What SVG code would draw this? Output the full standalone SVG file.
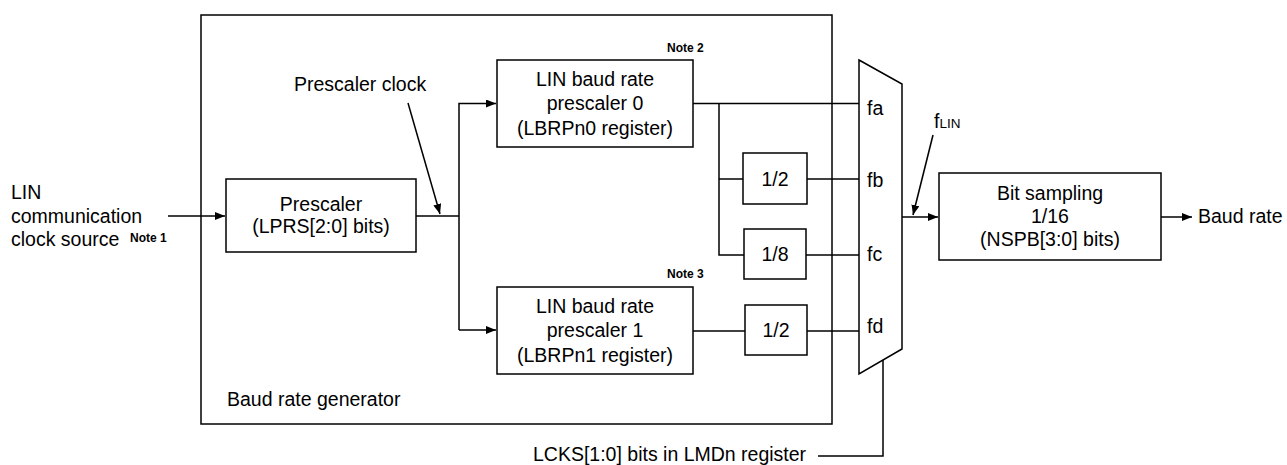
<svg xmlns="http://www.w3.org/2000/svg" width="1287" height="465" viewBox="0 0 1287 465">
<style>
.b{fill:#fff;stroke:#000;stroke-width:1.5}
.l{fill:none;stroke:#000;stroke-width:1.5}
.t{font-family:"Liberation Sans",Arial,sans-serif;font-size:19.5px;fill:#000}
.c{text-anchor:middle}
.n{font-family:"Liberation Sans",Arial,sans-serif;font-size:12px;font-weight:bold;fill:#000}
</style>
<defs>
<marker id="ah" viewBox="0 0 10 8" refX="10" refY="4" markerWidth="10" markerHeight="8" markerUnits="userSpaceOnUse" orient="auto">
<path d="M0,0 L10,4 L0,8 Z" fill="#000"/>
</marker>
</defs>
<rect width="1287" height="465" fill="#fff"/>
<g id="generator">
<rect class="l" x="201" y="15" width="631" height="409"/>
<text class="t" x="227" y="406">Baud rate generator</text>
</g>
<g id="connectors">
<path class="l" d="M168,216 H225" marker-end="url(#ah)"/>
<path class="l" d="M416,216 H459"/>
<path class="l" d="M459,330 V103.5 H496" marker-end="url(#ah)"/>
<path class="l" d="M459,330 H496" marker-end="url(#ah)"/>
<path class="l" d="M408,103 L440,214" marker-end="url(#ah)"/>
<path class="l" d="M693,103.5 H859"/>
<path class="l" d="M719,103.5 V255 H744"/>
<path class="l" d="M719,179 H743"/>
<path class="l" d="M807,179 H859"/>
<path class="l" d="M806,255 H859"/>
<path class="l" d="M693,331 H745"/>
<path class="l" d="M807,331 H859"/>
<path class="l" d="M902,217 H938" marker-end="url(#ah)"/>
<path class="l" d="M933,135 L913,215" marker-end="url(#ah)"/>
<path class="l" d="M1161,217 H1192" marker-end="url(#ah)"/>
<path class="l" d="M818,456 H883 V360"/>
</g>
<g id="input">
<text class="t" x="11" y="199">LIN</text>
<text class="t" x="11" y="223">communication</text>
<text class="t" x="11" y="246">clock source</text>
<text class="n" x="130" y="242">Note 1</text>
</g>
<g id="prescaler">
<rect class="b" x="226" y="179" width="190" height="73"/>
<text class="t c" x="321" y="211">Prescaler</text>
<text class="t c" x="321" y="233">(LPRS[2:0] bits)</text>
</g>
<g id="prescaler-clock-label">
<text class="t" x="294" y="91">Prescaler clock</text>
</g>
<g id="lbrp0">
<rect class="b" x="497" y="60" width="196" height="87"/>
<text class="t c" x="595" y="86">LIN baud rate</text>
<text class="t c" x="595" y="110">prescaler 0</text>
<text class="t c" x="595" y="135">(LBRPn0 register)</text>
<text class="n" x="667" y="52">Note 2</text>
</g>
<g id="lbrp1">
<rect class="b" x="497" y="287" width="196" height="87"/>
<text class="t c" x="595" y="313">LIN baud rate</text>
<text class="t c" x="595" y="337">prescaler 1</text>
<text class="t c" x="595" y="362">(LBRPn1 register)</text>
<text class="n" x="667" y="278">Note 3</text>
</g>
<g id="div2a">
<rect class="b" x="743" y="153" width="64" height="51"/>
<text class="t c" x="775" y="186">1/2</text>
</g>
<g id="div8">
<rect class="b" x="744" y="229" width="62" height="50"/>
<text class="t c" x="775" y="261">1/8</text>
</g>
<g id="div2b">
<rect class="b" x="745" y="305" width="62" height="50"/>
<text class="t c" x="776" y="337">1/2</text>
</g>
<g id="mux">
<path class="b" d="M859,60 L902,84 L902,349 L859,374 Z"/>
<text class="t" x="867" y="115">fa</text>
<text class="t" x="867" y="187">fb</text>
<text class="t" x="867" y="261">fc</text>
<text class="t" x="867" y="333">fd</text>
</g>
<g id="flin-label">
<text class="t" x="934" y="128">f<tspan font-size="13.5px">LIN</tspan></text>
</g>
<g id="bit-sampling">
<rect class="b" x="939" y="173" width="222" height="87"/>
<text class="t c" x="1050" y="200">Bit sampling</text>
<text class="t c" x="1050" y="223">1/16</text>
<text class="t c" x="1050" y="246">(NSPB[3:0] bits)</text>
</g>
<g id="baud-rate">
<text class="t" x="1198" y="223">Baud rate</text>
</g>
<g id="lcks">
<text class="t" x="533" y="461">LCKS[1:0] bits in LMDn register</text>
</g>
</svg>
